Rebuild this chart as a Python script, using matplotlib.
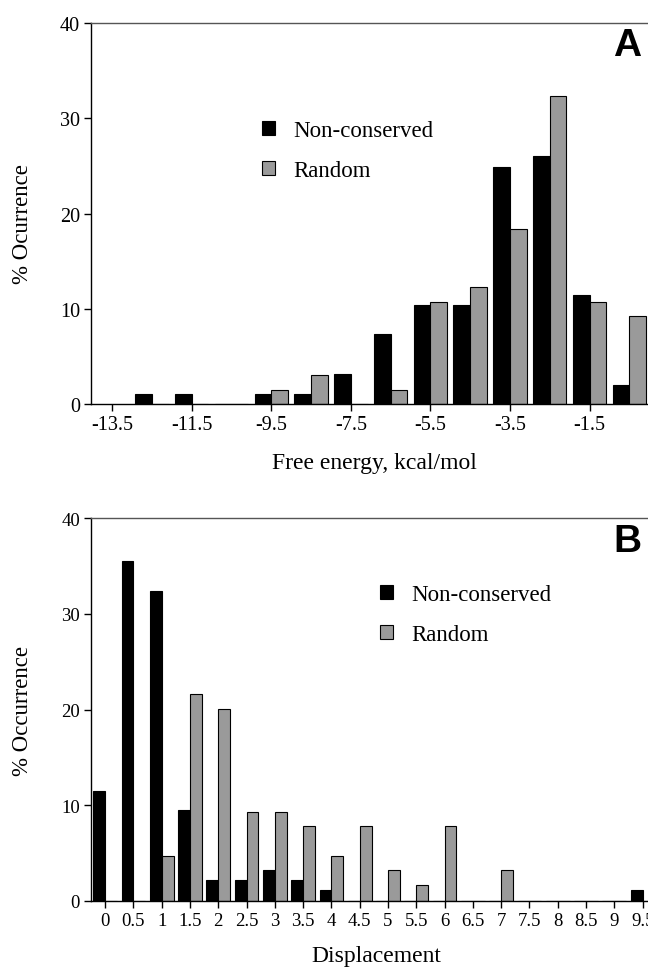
import matplotlib
matplotlib.use("Agg")
import matplotlib.pyplot as plt
import numpy as np

plt.rcParams['font.family'] = ['Liberation Serif', 'DejaVu Serif']

# ---- Panel A data ----
energy_centers = [-12.5, -11.5, -10.5, -9.5, -8.5, -7.5, -6.5, -5.5, -4.5, -3.5, -2.5, -1.5, -0.5]
energy_nonconserved = [1.0, 1.0, 0.0, 1.0, 1.0, 3.1, 7.3, 10.4, 10.4, 24.9, 26.0, 11.4, 2.0]
energy_random = [0.0, 0.0, 0.0, 1.5, 3.0, 0.0, 1.5, 10.7, 12.3, 18.4, 32.3, 10.7, 9.2]
energy_ticks = [-13.5, -11.5, -9.5, -7.5, -5.5, -3.5, -1.5]
energy_ticklabels = ['-13.5', '-11.5', '-9.5', '-7.5', '-5.5', '-3.5', '-1.5']

# ---- Panel B data ----
disp_labels = ['0', '0.5', '1', '1.5', '2', '2.5', '3', '3.5', '4', '4.5', '5', '5.5',
               '6', '6.5', '7', '7.5', '8', '8.5', '9', '9.5']
disp_nonconserved = [11.5, 35.5, 32.4, 9.5, 2.2, 2.2, 3.2, 2.2, 1.2, 0, 0, 0,
                     0, 0, 0, 0, 0, 0, 0, 1.2]
disp_random = [0, 0, 4.7, 21.6, 20.1, 9.3, 9.3, 7.8, 4.7, 7.8, 3.2, 1.7,
               7.8, 0, 3.2, 0, 0, 0, 0, 0]

BLACK = '#000000'
GRAY = '#9a9a9a'
W, H = 648, 970
fig = plt.figure(figsize=(W / 100, H / 100), dpi=100)


def style(ax, tick_fs):
    ax.spines['right'].set_visible(False)
    for s in ['left', 'bottom', 'top']:
        ax.spines[s].set_linewidth(1.0)
    ax.spines['top'].set_color('#555555')
    ax.tick_params(axis='both', direction='out', length=5, width=1.0,
                   labelsize=tick_fs, pad=3)
    ax.set_ylim(0, 40)
    ax.set_yticks([0, 10, 20, 30, 40])


# Panel A
axA = fig.add_axes([91 / W, 1 - 405 / H, 557 / W, 381 / H])
bw = 0.42
xa = np.array(energy_centers)
axA.bar(xa - bw, energy_nonconserved, width=bw, align='edge', color=BLACK,
        edgecolor='black', linewidth=0.8, label='Non-conserved')
axA.bar(xa, energy_random, width=bw, align='edge', color=GRAY,
        edgecolor='black', linewidth=0.8, label='Random')
axA.set_xlim(-14.03, -0.03)
axA.set_xticks(energy_ticks)
axA.set_xticklabels(energy_ticklabels)
style(axA, 14.5)
fig.text(374 / W, 1 - 464 / H, 'Free energy, kcal/mol', ha='center', va='center', fontsize=17)
fig.text(23 / W, 1 - 224 / H, '% Ocurrence', ha='center', va='center', rotation=90, fontsize=16.5)
fig.text(627 / W, 1 - 46 / H, 'A', ha='center', va='center', fontsize=28,
         fontweight='bold', family=['Liberation Sans', 'DejaVu Sans'])
legA = axA.legend(loc='upper left', bbox_to_anchor=(262 / W, 1 - 121 / H),
                  bbox_transform=fig.transFigure, frameon=False, fontsize=16.5,
                  handlelength=0.55, handleheight=0.55, handletextpad=0.8,
                  labelspacing=0.84, borderpad=0, borderaxespad=0)

# Panel B
axB = fig.add_axes([91 / W, 1 - 902 / H, 557 / W, 383 / H])
xb = np.arange(len(disp_labels))
axB.bar(xb - bw, disp_nonconserved, width=bw, align='edge', color=BLACK,
        edgecolor='black', linewidth=0.8, label='Non-conserved')
axB.bar(xb, disp_random, width=bw, align='edge', color=GRAY,
        edgecolor='black', linewidth=0.8, label='Random')
axB.set_xlim(-0.5, 19.19)
axB.set_xticks(xb)
axB.set_xticklabels(disp_labels)
style(axB, 13.5)
fig.text(376 / W, 1 - 957 / H, 'Displacement', ha='center', va='center', fontsize=17)
fig.text(23 / W, 1 - 711 / H, '% Occurrence', ha='center', va='center', rotation=90, fontsize=16.5)
fig.text(627 / W, 1 - 542 / H, 'B', ha='center', va='center', fontsize=28,
         fontweight='bold', family=['Liberation Sans', 'DejaVu Sans'])
legB = axB.legend(loc='upper left', bbox_to_anchor=(380 / W, 1 - 585 / H),
                  bbox_transform=fig.transFigure, frameon=False, fontsize=16.5,
                  handlelength=0.55, handleheight=0.55, handletextpad=0.8,
                  labelspacing=0.84, borderpad=0, borderaxespad=0)

fig.savefig('out.png', dpi=100)
